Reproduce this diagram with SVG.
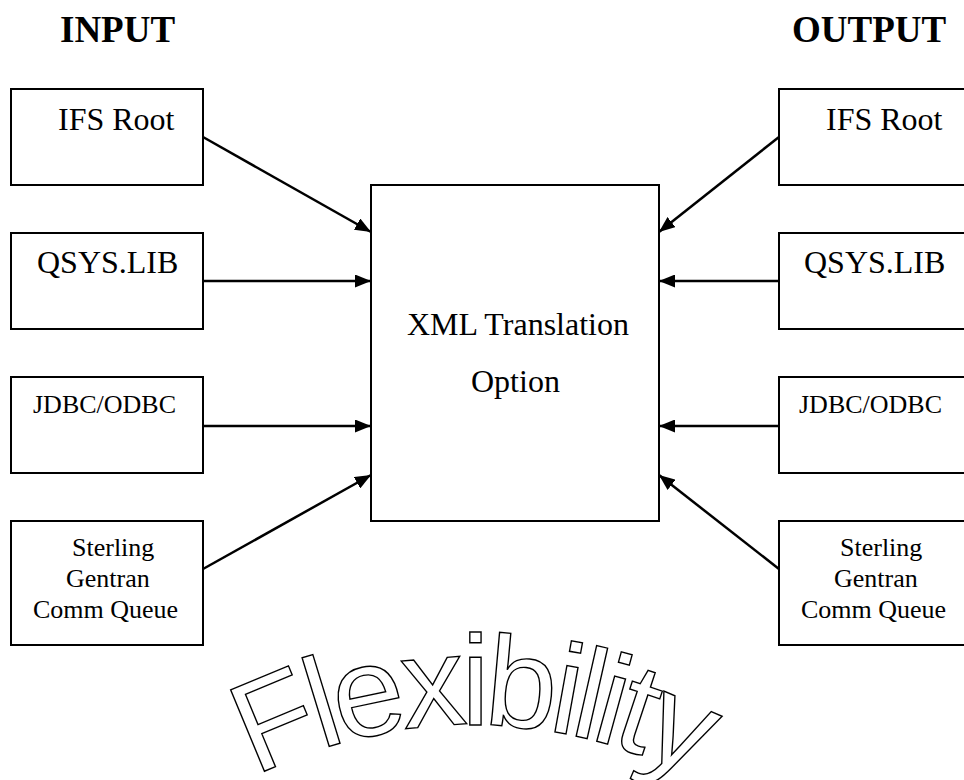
<svg xmlns="http://www.w3.org/2000/svg" width="964" height="780" viewBox="0 0 964 780">
<defs>
<style>
.box{fill:#fff;stroke:#000;stroke-width:2}
text.t{font-family:'Liberation Serif','Times New Roman',serif;fill:#000}
text.h{font-family:'Liberation Serif','Times New Roman',serif;font-weight:bold;font-size:37px;fill:#000}
text.big{font-size:32px}
text.sm{font-size:26px}
.con line{stroke:#000;stroke-width:2.5;marker-end:url(#ah)}
text.fx{font-family:'Liberation Sans',Arial,sans-serif;font-size:128px;letter-spacing:-7px;fill:#fff;stroke:#000;stroke-width:1.4}
</style>
<marker id="ah" viewBox="0 0 16 13" refX="16" refY="6.5" markerWidth="16" markerHeight="13" markerUnits="userSpaceOnUse" orient="auto">
<path d="M0,0 L16,6.5 L0,13 z" fill="#000"/>
</marker>
<path id="arc" d="M 192,815 A 480,480 0 0,1 752,815" fill="none"/>
</defs>
<rect width="964" height="780" fill="#fff"/>
<text class="h" x="60" y="42">INPUT</text>
<text class="h" x="792" y="42">OUTPUT</text>

<g id="main" font-family="Liberation Serif, serif"><rect class="box" x="371" y="185" width="288" height="336"/>
<text class="t big" x="407" y="335">XML Translation</text>
<text class="t big" x="471" y="392">Option</text></g>

<g id="in-ifs" font-family="Liberation Serif, serif"><rect class="box" x="11" y="89" width="192" height="96"/><text class="t big" x="58" y="130">IFS Root</text></g>
<g id="in-qsys" font-family="Liberation Serif, serif"><rect class="box" x="11" y="233" width="192" height="96"/><text class="t big" x="37" y="273">QSYS.LIB</text></g>
<g id="in-jdbc" font-family="Liberation Serif, serif"><rect class="box" x="11" y="377" width="192" height="96"/><text class="t sm" x="33" y="413">JDBC/ODBC</text></g>
<g id="in-sterling" font-family="Liberation Serif, serif"><rect class="box" x="11" y="521" width="192" height="124"/>
<text class="t sm" x="72" y="556">Sterling</text><text class="t sm" x="66" y="587">Gentran</text><text class="t sm" x="33" y="618">Comm Queue</text></g>

<g id="out-ifs" font-family="Liberation Serif, serif"><rect class="box" x="779" y="89" width="192" height="96"/><text class="t big" x="826" y="130">IFS Root</text></g>
<g id="out-qsys" font-family="Liberation Serif, serif"><rect class="box" x="779" y="233" width="192" height="96"/><text class="t big" x="804" y="273">QSYS.LIB</text></g>
<g id="out-jdbc" font-family="Liberation Serif, serif"><rect class="box" x="779" y="377" width="192" height="96"/><text class="t sm" x="799" y="413">JDBC/ODBC</text></g>
<g id="out-sterling" font-family="Liberation Serif, serif"><rect class="box" x="779" y="521" width="192" height="124"/>
<text class="t sm" x="840" y="556">Sterling</text><text class="t sm" x="834" y="587">Gentran</text><text class="t sm" x="801" y="618">Comm Queue</text></g>

<g id="connectors" class="con">
<line x1="203" y1="137" x2="371" y2="232"/>
<line x1="203" y1="281" x2="371" y2="281"/>
<line x1="203" y1="426" x2="371" y2="426"/>
<line x1="203" y1="569" x2="371" y2="475"/>
<line x1="779" y1="137" x2="659" y2="232"/>
<line x1="779" y1="281" x2="659" y2="281"/>
<line x1="779" y1="426" x2="659" y2="426"/>
<line x1="779" y1="569" x2="659" y2="475"/>
</g>

<g id="flexibility">
<text class="fx"><textPath href="#arc" startOffset="50%" text-anchor="middle">Flexibility</textPath></text>
</g>
</svg>
